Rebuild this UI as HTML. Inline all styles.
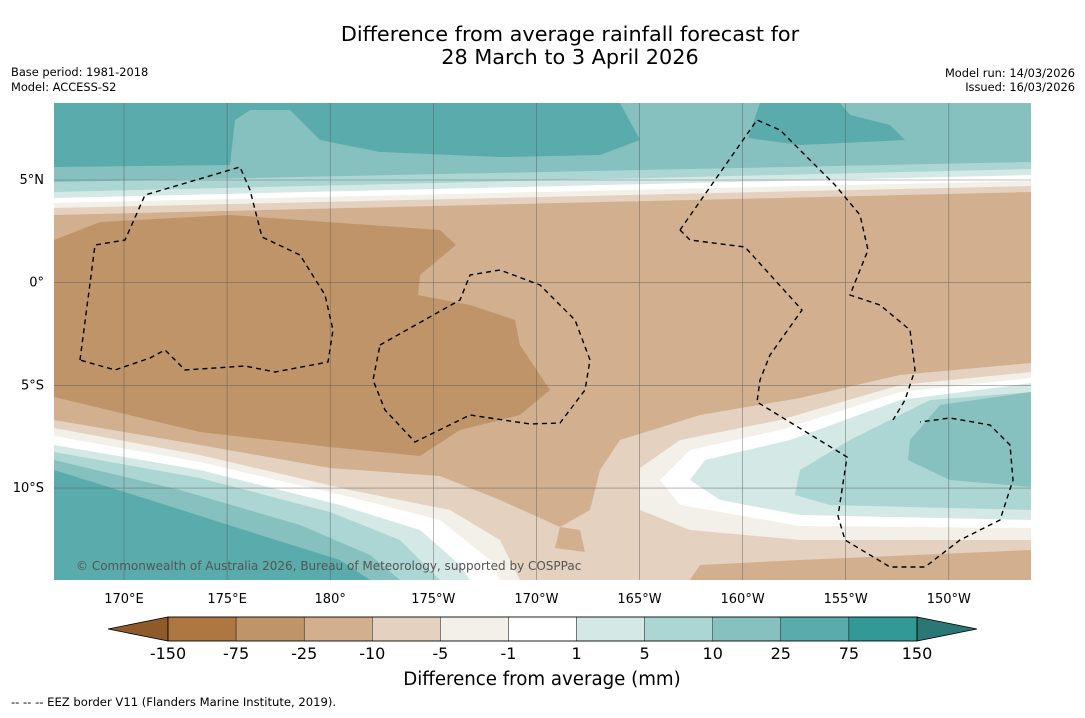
<!DOCTYPE html>
<html><head><meta charset="utf-8"><style>
body{margin:0;background:#fff;font-family:"Liberation Sans","DejaVu Sans",sans-serif;}
svg text{font-family:"DejaVu Sans","Liberation Sans",sans-serif;}
</style></head><body>
<svg id="s" width="1085" height="713" viewBox="0 0 1085 713">
<rect width="1085" height="713" fill="#fff"/>
<text x="570" y="41" font-size="20.8" text-anchor="middle">Difference from average rainfall forecast for</text>
<text x="570" y="64" font-size="20.8" text-anchor="middle">28 March to 3 April 2026</text>
<text x="11" y="76" font-size="11.4">Base period: 1981-2018</text>
<text x="11" y="91" font-size="11.4">Model: ACCESS-S2</text>
<text x="1075" y="77" font-size="11.4" text-anchor="end">Model run: 14/03/2026</text>
<text x="1075" y="91" font-size="11.4" text-anchor="end">Issued: 16/03/2026</text>
<defs><clipPath id="mc"><rect x="54" y="103" width="977" height="477"/></clipPath></defs>
<g clip-path="url(#mc)">
<rect x="54" y="103" width="977" height="477" fill="#d2b08f"/>
<polygon fill="#e4d1bf" points="54,103 1031,103 1031,192 54,215"/>
<polygon fill="#f3efe9" points="54,103 1031,103 1031,186 54,208"/>
<polygon fill="#ffffff" points="54,103 1031,103 1031,181 54,203"/>
<polygon fill="#d4e8e6" points="54,103 1031,103 1031,175 54,198"/>
<polygon fill="#acd6d4" points="54,103 1031,103 1031,169 54,192"/>
<polygon fill="#86c0bf" points="54,103 1031,103 1031,162 54,182"/>
<polygon fill="#5aabab" points="54,103 620,103 640,140 600,155 500,157 380,152 320,140 290,110 250,110 235,120 230,165 54,167"/>
<polygon fill="#5aabab" points="760,103 840,103 850,115 890,125 905,140 800,145 748,138"/>
<polygon fill="#bf9469" points="54,240 100,222 230,215 440,230 456,245 420,275 418,295 470,305 515,320 520,345 550,390 520,415 460,430 420,456 330,447 200,432 54,397"/>
<polygon fill="#e4d1bf" points="54,420 200,445 330,468 440,476 500,500 560,527 590,510 600,470 620,440 700,415 800,398 900,375 1031,363 1031,580 54,580"/>
<polygon fill="#d2b08f" points="560,527 555,548 585,552 580,530"/>
<polygon fill="#d2b08f" points="690,580 700,565 800,560 1031,550 1031,580"/>
<polygon fill="#f3efe9" points="1031,372 900,385 780,420 680,440 640,468 640,510 690,530 800,540 1031,540"/>
<polygon fill="#ffffff" points="1031,378 900,392 780,430 690,450 660,480 680,505 800,526 1031,528"/>
<polygon fill="#d4e8e6" points="1031,383 900,400 790,440 705,460 690,480 720,500 800,515 1031,520"/>
<polygon fill="#acd6d4" points="1031,392 930,400 850,440 800,470 795,495 830,505 1031,510"/>
<polygon fill="#86c0bf" points="1031,392 940,405 910,440 908,460 950,480 1031,487"/>
<polygon fill="#f3efe9" points="54,428 200,455 350,490 450,510 500,540 520,580 54,580"/>
<polygon fill="#ffffff" points="54,436 200,462 350,497 440,520 490,560 500,580 54,580"/>
<polygon fill="#d4e8e6" points="54,445 200,470 340,505 420,530 460,565 470,580 54,580"/>
<polygon fill="#acd6d4" points="54,452 200,478 330,512 400,540 440,580 54,580"/>
<polygon fill="#86c0bf" points="54,460 180,490 300,525 370,555 400,580 54,580"/>
<polygon fill="#5aabab" points="54,470 150,500 260,535 340,560 370,580 54,580"/>
<g id="grid" stroke="#555" stroke-width="0.6" opacity="0.7"></g>
<g fill="none" stroke="#000" stroke-width="1.4" stroke-dasharray="5,4">
<polyline points="80,360 95,245 125,240 145,195 240,167 250,190 262,237 300,255 325,295 333,330 328,362 275,372 245,366 185,370 165,350 150,358 115,370 80,360"/>
<polyline points="380,345 460,300 470,275 500,270 540,285 575,320 590,360 585,390 560,423 530,424 470,415 415,442 385,410 373,380 380,345"/>
<polyline points="680,230 757,120 780,130 835,185 860,215 868,250 850,295 880,305 910,330 915,370 905,400 893,420"/>
<polyline points="680,230 690,240 745,247 802,310 770,355 760,380 757,402 847,457 838,516 845,540 890,567 925,567 960,540 1000,520 1013,480 1010,445 990,425 950,418 920,422"/>
</g>
<text x="76" y="570" font-size="12" fill="#555">© Commonwealth of Australia 2026, Bureau of Meteorology, supported by COSPPac</text>
</g>
<g id="axes"></g>
<g id="cbar"></g>
<text x="542" y="685" font-size="18.2" text-anchor="middle">Difference from average (mm)</text>
<text x="11" y="706" font-size="11.6">--  --  -- EEZ border V11 (Flanders Marine Institute, 2019).</text>
</svg>
<script>
const lonLabels=["170°E","175°E","180°","175°W","170°W","165°W","160°W","155°W","150°W"];
const latLabels=["5°N","0°","5°S","10°S"];
const levels=["-150","-75","-25","-10","-5","-1","1","5","10","25","75","150"];
const colors=["#ae7741","#bf9469","#d2b08f","#e4d1bf","#f3efe9","#ffffff","#d4e8e6","#acd6d4","#86c0bf","#5aabab","#329996"];
const NS="http://www.w3.org/2000/svg";
function mk(t,a,p){const e=document.createElementNS(NS,t);for(const k in a)e.setAttribute(k,a[k]);p.appendChild(e);return e;}
const grid=document.getElementById('grid'),axes=document.getElementById('axes'),cb=document.getElementById('cbar');
const lx=i=>124+i*103.1, ly=i=>180+i*102.7;
lonLabels.forEach((l,i)=>{
 const g=mk('line',{x1:lx(i),x2:lx(i),y1:103,y2:580},grid);
 
 
 const t=mk('text',{x:lx(i),y:603,'font-size':13,'text-anchor':'middle'},axes);t.textContent=l;
 
 
});
latLabels.forEach((l,i)=>{
 const g=mk('line',{x1:54,x2:1031,y1:ly(i),y2:ly(i)},grid);
 
 
 const t=mk('text',{x:44,y:ly(i)+4,'font-size':13,'text-anchor':'end'},axes);t.textContent=l;
 
 
});
const x0=168,x1=917,w=(x1-x0)/colors.length;
const lt=mk('polygon',{points:`108,629 ${x0},617 ${x0},641`,fill:'#8e5a2a',stroke:'#000','stroke-width':0.8},cb);


const rt=mk('polygon',{points:`977,629 ${x1},617 ${x1},641`,fill:'#2a7775',stroke:'#000','stroke-width':0.8},cb);


colors.forEach((c,i)=>{
 const r=mk('rect',{x:x0+i*w,y:617,width:w,height:24,fill:c,stroke:'#000','stroke-width':0.4},cb);
 
 
});
mk('rect',{x:x0,y:617,width:x1-x0,height:24,fill:'none',stroke:'#000','stroke-width':0.8},cb);
levels.forEach((l,i)=>{
 const t=mk('text',{x:x0+i*w,y:659,'font-size':16,'text-anchor':'middle'},cb);t.textContent=l;
 
 
});
</script>
</body></html>
